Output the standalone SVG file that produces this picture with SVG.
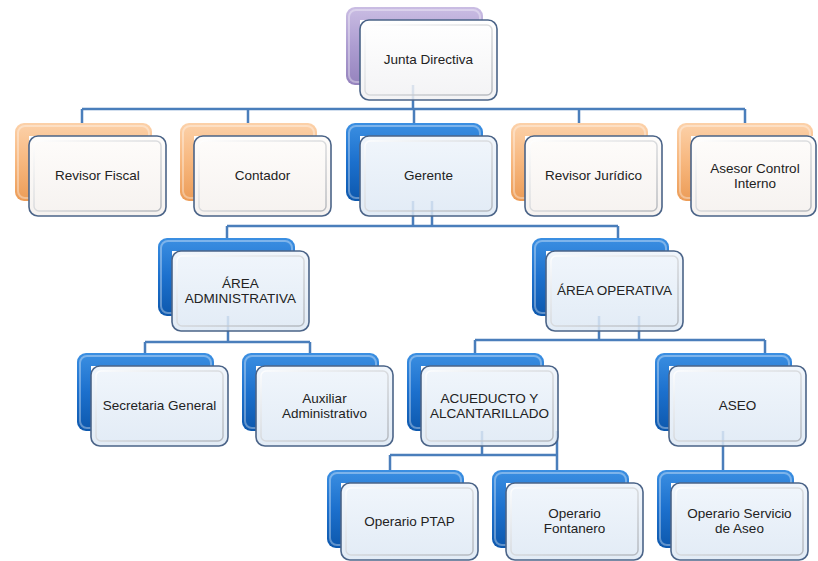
<svg xmlns="http://www.w3.org/2000/svg" width="818" height="561" viewBox="0 0 818 561">
<defs>
<linearGradient id="gPurple" x1="0" y1="0" x2="0" y2="1"><stop offset="0" stop-color="#cabde3"/><stop offset="0.5" stop-color="#ad9dd1"/><stop offset="1" stop-color="#9583bd"/></linearGradient>
<linearGradient id="gOrange" x1="0" y1="0" x2="0" y2="1"><stop offset="0" stop-color="#fcd1a9"/><stop offset="0.5" stop-color="#f7b77e"/><stop offset="1" stop-color="#ec9c57"/></linearGradient>
<linearGradient id="gBlue" x1="0" y1="0" x2="0" y2="1"><stop offset="0" stop-color="#3b8fe2"/><stop offset="0.5" stop-color="#1c70cd"/><stop offset="1" stop-color="#0d58ad"/></linearGradient>
<linearGradient id="fWhite" x1="0" y1="0" x2="0" y2="1"><stop offset="0" stop-color="#ffffff"/><stop offset="1" stop-color="#f1f1f3"/></linearGradient>
<linearGradient id="fWarm" x1="0" y1="0" x2="0" y2="1"><stop offset="0" stop-color="#fefcfa"/><stop offset="1" stop-color="#f4f0ed"/></linearGradient>
<linearGradient id="fBlue" x1="0" y1="0" x2="0" y2="1"><stop offset="0" stop-color="#eef4fb"/><stop offset="1" stop-color="#dde8f4"/></linearGradient>
<linearGradient id="bevel" x1="0" y1="0" x2="1" y2="1"><stop offset="0" stop-color="#ffffff" stop-opacity="0.9"/><stop offset="1" stop-color="#a9adb3" stop-opacity="0.8"/></linearGradient>
</defs>
<style>
.back{stroke:none}
.bp{fill:url(#gPurple)}
.bo{fill:url(#gOrange)}
.bb{fill:url(#gBlue)}
.hl{fill:none;stroke:#ffffff;stroke-opacity:0.35;stroke-width:2}
.under{fill:#ffffff}
.front{stroke:#4b6488;stroke-width:1.6;fill-opacity:0.85}
.fw{fill:url(#fWhite)}
.fo{fill:url(#fWarm)}
.fb{fill:url(#fBlue)}
.bev{fill:none;stroke:url(#bevel);stroke-width:1.5}
.lbl{font-family:"Liberation Sans","Noto Sans",Arial,sans-serif;font-size:13.5px;fill:#222222;text-anchor:middle}
.conn{fill:none;stroke:#4a7ebb;stroke-width:2.5}
</style>

<g id="connectors" class="conn">
<path d="M413,85 V109 M82,109 H745 M82,109 V123 M248,109 V123 M414,109 V123 M579,109 V123 M745,109 V123"/>
<path d="M413,201 V226 M432,201 V226 M227,226 H618 M227,226 V238 M618,226 V238"/>
<path d="M228,316 V342 M145,342 H310 M145,342 V353 M310,342 V353"/>
<path d="M599,316 V340 M639,316 V340 M475,340 H765 M475,340 V353 M765,340 V353"/>
<path d="M482,431 V455 M557,431 V470 M390,455 H557 M390,455 V470"/>
<path d="M723,431 V470"/>
</g>

<g id="junta">
<rect class="back bp" x="346" y="7" width="137" height="78" rx="9"/>
<rect class="hl" x="349" y="10" width="131" height="72" rx="7"/>
<rect class="under" x="360" y="20" width="123" height="65"/>
<rect class="front fw" x="360" y="20" width="137" height="80" rx="9"/>
<rect class="bev" x="365" y="25" width="127" height="70" rx="5"/>
<text class="lbl" x="428.5" y="64">Junta Directiva</text>
</g>

<g id="revisor-fiscal">
<rect class="back bo" x="15" y="123" width="137" height="78" rx="9"/>
<rect class="hl" x="18" y="126" width="131" height="72" rx="7"/>
<rect class="under" x="29" y="136" width="123" height="65"/>
<rect class="front fo" x="29" y="136" width="137" height="80" rx="9"/>
<rect class="bev" x="34" y="141" width="127" height="70" rx="5"/>
<text class="lbl" x="97.5" y="180">Revisor Fiscal</text>
</g>

<g id="contador">
<rect class="back bo" x="180" y="123" width="137" height="78" rx="9"/>
<rect class="hl" x="183" y="126" width="131" height="72" rx="7"/>
<rect class="under" x="194" y="136" width="123" height="65"/>
<rect class="front fo" x="194" y="136" width="137" height="80" rx="9"/>
<rect class="bev" x="199" y="141" width="127" height="70" rx="5"/>
<text class="lbl" x="262.5" y="180">Contador</text>
</g>

<g id="gerente">
<rect class="back bb" x="346" y="123" width="137" height="78" rx="9"/>
<rect class="hl" x="349" y="126" width="131" height="72" rx="7"/>
<rect class="under" x="360" y="136" width="123" height="65"/>
<rect class="front fb" x="360" y="136" width="137" height="80" rx="9"/>
<rect class="bev" x="365" y="141" width="127" height="70" rx="5"/>
<text class="lbl" x="428.5" y="180">Gerente</text>
</g>

<g id="revisor-juridico">
<rect class="back bo" x="511" y="123" width="137" height="78" rx="9"/>
<rect class="hl" x="514" y="126" width="131" height="72" rx="7"/>
<rect class="under" x="525" y="136" width="123" height="65"/>
<rect class="front fo" x="525" y="136" width="137" height="80" rx="9"/>
<rect class="bev" x="530" y="141" width="127" height="70" rx="5"/>
<text class="lbl" x="593.5" y="180">Revisor Jurídico</text>
</g>

<g id="asesor-control">
<rect class="back bo" x="677" y="123" width="136" height="78" rx="9"/>
<rect class="hl" x="680" y="126" width="130" height="72" rx="7"/>
<rect class="under" x="691" y="136" width="122" height="65"/>
<rect class="front fo" x="691" y="136" width="125" height="80" rx="9"/>
<rect class="bev" x="696" y="141" width="115" height="70" rx="5"/>
<text class="lbl" x="755" y="173">Asesor Control</text>
<text class="lbl" x="755" y="188">Interno</text>
</g>

<g id="area-administrativa">
<rect class="back bb" x="158" y="238" width="137" height="78" rx="9"/>
<rect class="hl" x="161" y="241" width="131" height="72" rx="7"/>
<rect class="under" x="172" y="251" width="123" height="65"/>
<rect class="front fb" x="172" y="251" width="137" height="80" rx="9"/>
<rect class="bev" x="177" y="256" width="127" height="70" rx="5"/>
<text class="lbl" x="240.5" y="288">ÁREA</text>
<text class="lbl" x="240.5" y="303">ADMINISTRATIVA</text>
</g>

<g id="area-operativa">
<rect class="back bb" x="532" y="238" width="137" height="78" rx="9"/>
<rect class="hl" x="535" y="241" width="131" height="72" rx="7"/>
<rect class="under" x="546" y="251" width="123" height="65"/>
<rect class="front fb" x="546" y="251" width="137" height="80" rx="9"/>
<rect class="bev" x="551" y="256" width="127" height="70" rx="5"/>
<text class="lbl" x="614.5" y="295">ÁREA OPERATIVA</text>
</g>

<g id="secretaria-general">
<rect class="back bb" x="77" y="353" width="137" height="78" rx="9"/>
<rect class="hl" x="80" y="356" width="131" height="72" rx="7"/>
<rect class="under" x="91" y="366" width="123" height="65"/>
<rect class="front fb" x="91" y="366" width="137" height="80" rx="9"/>
<rect class="bev" x="96" y="371" width="127" height="70" rx="5"/>
<text class="lbl" x="159.5" y="410">Secretaria General</text>
</g>

<g id="auxiliar-administrativo">
<rect class="back bb" x="242" y="353" width="137" height="78" rx="9"/>
<rect class="hl" x="245" y="356" width="131" height="72" rx="7"/>
<rect class="under" x="256" y="366" width="123" height="65"/>
<rect class="front fb" x="256" y="366" width="137" height="80" rx="9"/>
<rect class="bev" x="261" y="371" width="127" height="70" rx="5"/>
<text class="lbl" x="324.5" y="403">Auxiliar</text>
<text class="lbl" x="324.5" y="418">Administrativo</text>
</g>

<g id="acueducto">
<rect class="back bb" x="407" y="353" width="137" height="78" rx="9"/>
<rect class="hl" x="410" y="356" width="131" height="72" rx="7"/>
<rect class="under" x="421" y="366" width="123" height="65"/>
<rect class="front fb" x="421" y="366" width="137" height="80" rx="9"/>
<rect class="bev" x="426" y="371" width="127" height="70" rx="5"/>
<text class="lbl" x="489.5" y="403">ACUEDUCTO Y</text>
<text class="lbl" x="489.5" y="418">ALCANTARILLADO</text>
</g>

<g id="aseo">
<rect class="back bb" x="655" y="353" width="137" height="78" rx="9"/>
<rect class="hl" x="658" y="356" width="131" height="72" rx="7"/>
<rect class="under" x="669" y="366" width="123" height="65"/>
<rect class="front fb" x="669" y="366" width="137" height="80" rx="9"/>
<rect class="bev" x="674" y="371" width="127" height="70" rx="5"/>
<text class="lbl" x="737.5" y="410">ASEO</text>
</g>

<g id="operario-ptap">
<rect class="back bb" x="327" y="470" width="137" height="78" rx="9"/>
<rect class="hl" x="330" y="473" width="131" height="72" rx="7"/>
<rect class="under" x="341" y="483" width="123" height="65"/>
<rect class="front fb" x="341" y="483" width="137" height="77" rx="9"/>
<rect class="bev" x="346" y="488" width="127" height="67" rx="5"/>
<text class="lbl" x="409.5" y="526">Operario PTAP</text>
</g>

<g id="operario-fontanero">
<rect class="back bb" x="492" y="470" width="137" height="78" rx="9"/>
<rect class="hl" x="495" y="473" width="131" height="72" rx="7"/>
<rect class="under" x="506" y="483" width="123" height="65"/>
<rect class="front fb" x="506" y="483" width="137" height="77" rx="9"/>
<rect class="bev" x="511" y="488" width="127" height="67" rx="5"/>
<text class="lbl" x="574.5" y="518">Operario</text>
<text class="lbl" x="574.5" y="533">Fontanero</text>
</g>

<g id="operario-aseo">
<rect class="back bb" x="657" y="470" width="137" height="78" rx="9"/>
<rect class="hl" x="660" y="473" width="131" height="72" rx="7"/>
<rect class="under" x="671" y="483" width="123" height="65"/>
<rect class="front fb" x="671" y="483" width="137" height="77" rx="9"/>
<rect class="bev" x="676" y="488" width="127" height="67" rx="5"/>
<text class="lbl" x="739.5" y="518">Operario Servicio</text>
<text class="lbl" x="739.5" y="533">de Aseo</text>
</g>
</svg>
